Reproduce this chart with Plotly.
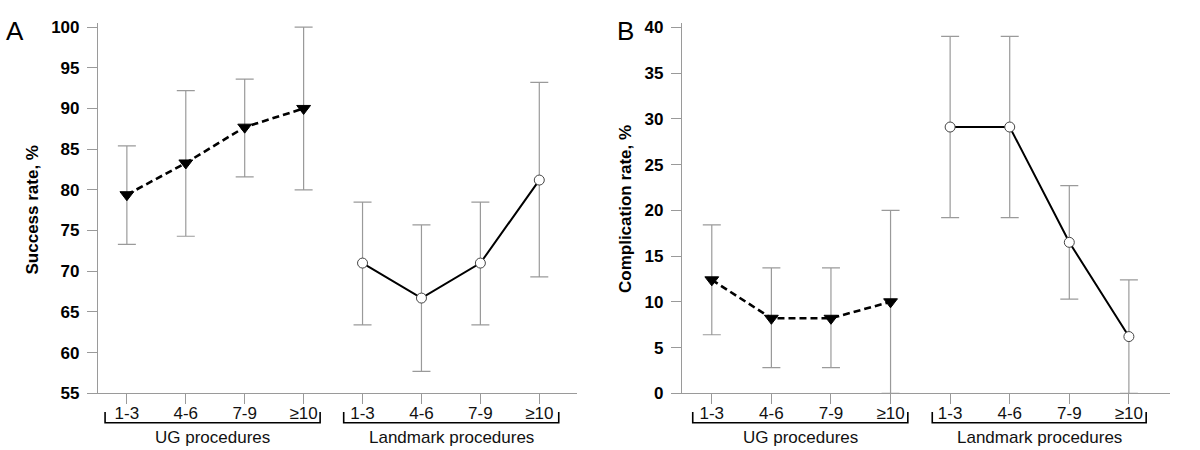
import plotly.graph_objects as go

groups = ["1-3", "4-6", "7-9", "≥10"]
tick_labels = groups + groups
group_names = ["UG procedures", "Landmark procedures"]

# Panel A: success rate, %
succ_ug = [79.4, 83.3, 87.7, 90.0]
succ_ug_hi = [85.4, 92.2, 93.6, 100.0]
succ_ug_lo = [73.3, 74.3, 81.6, 80.0]
succ_lm = [71.0, 66.7, 71.0, 81.2]
succ_lm_hi = [78.5, 75.7, 78.5, 93.2]
succ_lm_lo = [63.4, 57.7, 63.4, 69.3]

# Panel B: complication rate, %
comp_ug = [12.4, 8.2, 8.2, 10.0]
comp_ug_hi = [18.4, 13.7, 13.7, 20.0]
comp_ug_lo = [6.4, 2.8, 2.8, 0.0]
comp_lm = [29.1, 29.1, 16.5, 6.2]
comp_lm_hi = [39.0, 39.0, 22.7, 12.4]
comp_lm_lo = [19.2, 19.2, 10.3, 0.0]

W, H = 1200, 450
FONT = "Arial, Liberation Sans, Helvetica, sans-serif"
GREY = "#9a9a9a"

def px_x(p):
    return p / W

def px_y(p):
    return (H - p) / H

x_ug = list(range(4))
x_lm = list(range(4, 8))

fig = go.Figure()

def add_series(xs, vals, hi, lo, xa, ya, ug):
    err = dict(type="data", symmetric=False,
               array=[h - v for h, v in zip(hi, vals)],
               arrayminus=[v - l for v, l in zip(vals, lo)],
               color=GREY, thickness=1.2, width=9)
    if ug:
        line = dict(color="black", width=2.6, dash="7px,4px")
        marker = dict(symbol="triangle-down", size=12, color="black",
                      line=dict(color="black", width=1))
    else:
        line = dict(color="black", width=2)
        marker = dict(symbol="circle", size=10, color="white",
                      line=dict(color="#444", width=1))
    fig.add_trace(go.Scatter(x=xs, y=vals, mode="lines+markers", line=line,
                             marker=marker, error_y=err, xaxis=xa, yaxis=ya,
                             showlegend=False, cliponaxis=False))

add_series(x_ug, succ_ug, succ_ug_hi, succ_ug_lo, "x", "y", True)
add_series(x_lm, succ_lm, succ_lm_hi, succ_lm_lo, "x", "y", False)
add_series(x_ug, comp_ug, comp_ug_hi, comp_ug_lo, "x2", "y2", True)
add_series(x_lm, comp_lm, comp_lm_hi, comp_lm_lo, "x2", "y2", False)

ydom = [px_y(393.3), px_y(23)]
xaxis_common = dict(tickmode="array", tickvals=list(range(8)), ticktext=tick_labels,
                    showline=True, linecolor=GREY, linewidth=1.2, ticks="outside",
                    ticklen=10, tickcolor=GREY, tickwidth=1.2, showgrid=False,
                    zeroline=False, automargin=False, ticklabelstandoff=-6,
                    tickfont=dict(family=FONT, size=17, color="#111"))
yaxis_common = dict(showline=True, linecolor=GREY, linewidth=1.2, ticks="outside",
                    ticklen=10, tickcolor=GREY, tickwidth=1.2, showgrid=False,
                    zeroline=False, domain=ydom, automargin=False, ticklabelstandoff=4,
                    tickfont=dict(family=FONT, size=17, color="black", weight="bold"))

fig.update_layout(
    width=W, height=H, margin=dict(l=0, r=0, t=0, b=0, autoexpand=False),
    plot_bgcolor="white", paper_bgcolor="white",
    xaxis=dict(domain=[px_x(98), px_x(577)], range=[-0.49, 7.64], anchor="y", **xaxis_common),
    yaxis=dict(range=[55, 100.5], tickvals=[55, 60, 65, 70, 75, 80, 85, 90, 95, 100],
               anchor="x", **yaxis_common),
    xaxis2=dict(domain=[px_x(682), px_x(1170)], range=[-0.5, 7.69], anchor="y2", **xaxis_common),
    yaxis2=dict(range=[0, 40.47], tickvals=[0, 5, 10, 15, 20, 25, 30, 35, 40],
                anchor="x2", **yaxis_common),
)

shapes = []
annotations = []
y_bar = px_y(422.7)
y_top = px_y(412)
brackets = {"x": [(-0.37, 3.28), (3.68, 7.33)], "x2": [(-0.32, 3.29), (3.70, 7.29)]}
for xr, spans in brackets.items():
    for (a, b), name in zip(spans, group_names):
        shapes.append(dict(type="path", xref=xr, yref="paper",
                           path=f"M {a},{y_top} L {a},{y_bar} L {b},{y_bar} L {b},{y_top}",
                           line=dict(color="black", width=1.6)))
        annotations.append(dict(x=(a + b) / 2, y=px_y(437), xref=xr, yref="paper",
                                text=name, showarrow=False, yanchor="middle",
                                font=dict(family=FONT, size=17, color="#111")))

annotations += [
    dict(x=px_x(31.5), y=px_y(210), xref="paper", yref="paper", text="Success rate, %",
         textangle=-90, showarrow=False, xanchor="center", yanchor="middle",
         font=dict(family=FONT, size=17, color="black", weight="bold")),
    dict(x=px_x(625), y=px_y(209), xref="paper", yref="paper", text="Complication rate, %",
         textangle=-90, showarrow=False, xanchor="center", yanchor="middle",
         font=dict(family=FONT, size=17, color="black", weight="bold")),
    dict(x=px_x(15), y=px_y(31.5), xref="paper", yref="paper", text="A",
         showarrow=False, xanchor="center", yanchor="middle",
         font=dict(family=FONT, size=26, color="black")),
    dict(x=px_x(625), y=px_y(31.5), xref="paper", yref="paper", text="B",
         showarrow=False, xanchor="center", yanchor="middle",
         font=dict(family=FONT, size=26, color="black")),
]

fig.update_layout(shapes=shapes, annotations=annotations)
fig.write_html("out.html", config={"displayModeBar": False},
               post_script="document.body.style.margin='0px';document.body.style.overflow='hidden';")
